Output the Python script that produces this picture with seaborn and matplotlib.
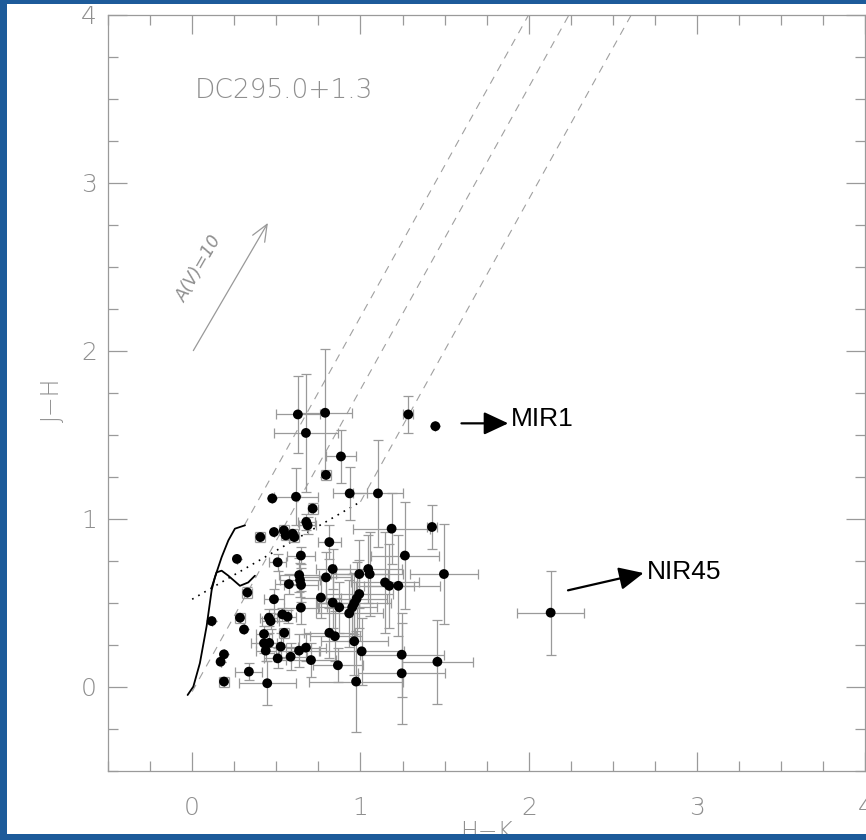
import numpy as np
import pandas as pd
import matplotlib
matplotlib.use("Agg")
import matplotlib.pyplot as plt
import seaborn as sns
from matplotlib.patches import Rectangle
from matplotlib.ticker import MultipleLocator

# ---------------- data ----------------
hk = [0.628, 0.790, 0.676, 1.284, 1.445, 0.884, 0.795, 0.936, 1.104, 0.476,
      0.617, 0.716, 0.678, 0.686, 0.405, 0.486, 0.545, 0.556, 0.597, 0.607,
      0.815, 0.266, 0.508, 0.646, 1.425, 1.185, 1.264, 0.835, 0.795, 0.636,
      0.641, 0.647, 0.575, 0.993, 1.046, 1.055, 1.146, 1.171, 1.225, 1.496,
      0.328, 0.486, 0.765, 0.835, 0.874, 0.646, 0.993, 0.977, 0.963, 0.951,
      0.933, 0.116, 0.536, 0.567, 0.456, 0.466, 0.284, 0.308, 0.547, 0.815,
      0.848, 0.427, 0.427, 0.458, 0.526, 0.437, 0.963, 0.635, 0.676, 1.007,
      0.189, 0.169, 0.508, 0.585, 0.706, 1.245, 1.457, 0.866, 1.245, 0.337,
      0.189, 0.446, 0.974, 2.130]
jh = [1.620, 1.630, 1.510, 1.620, 1.550, 1.370, 1.260, 1.150, 1.150, 1.120,
      1.130, 1.060, 0.980, 0.960, 0.890, 0.920, 0.930, 0.900, 0.910, 0.890,
      0.860, 0.760, 0.740, 0.780, 0.950, 0.940, 0.780, 0.700, 0.650, 0.664,
      0.634, 0.605, 0.610, 0.670, 0.700, 0.670, 0.620, 0.600, 0.600, 0.670,
      0.560, 0.520, 0.530, 0.500, 0.472, 0.470, 0.551, 0.523, 0.496, 0.472,
      0.436, 0.390, 0.430, 0.416, 0.410, 0.390, 0.410, 0.340, 0.320, 0.320,
      0.300, 0.313, 0.258, 0.260, 0.238, 0.214, 0.270, 0.214, 0.232, 0.210,
      0.192, 0.148, 0.168, 0.178, 0.158, 0.190, 0.148, 0.127, 0.079, 0.089,
      0.030, 0.020, 0.030, 0.440]
hk_err = [0.13, 0.16, 0.19, 0.03, 0.00, 0.09, 0.03, 0.10, 0.15, 0.00,
          0.13, 0.03, 0.05, 0.05, 0.03, 0.00, 0.03, 0.03, 0.03, 0.03,
          0.07, 0.00, 0.05, 0.085, 0.03, 0.23, 0.20, 0.10, 0.15, 0.12,
          0.12, 0.10, 0.08, 0.17, 0.20, 0.20, 0.20, 0.15, 0.25, 0.20,
          0.03, 0.06, 0.12, 0.10, 0.12, 0.10, 0.20, 0.18, 0.22, 0.15,
          0.20, 0.00, 0.05, 0.05, 0.05, 0.05, 0.03, 0.00, 0.03, 0.15,
          0.15, 0.05, 0.08, 0.08, 0.10, 0.06, 0.20, 0.12, 0.12, 0.25,
          0.00, 0.00, 0.08, 0.10, 0.15, 0.25, 0.21, 0.15, 0.26, 0.08,
          0.03, 0.17, 0.28, 0.20]
jh_err = [0.23, 0.38, 0.35, 0.11, 0.00, 0.16, 0.03, 0.16, 0.32, 0.00,
          0.17, 0.03, 0.05, 0.05, 0.03, 0.00, 0.03, 0.03, 0.03, 0.03,
          0.10, 0.00, 0.05, 0.05, 0.13, 0.21, 0.32, 0.12, 0.15, 0.10,
          0.10, 0.10, 0.06, 0.20, 0.20, 0.25, 0.30, 0.25, 0.30, 0.30,
          0.03, 0.06, 0.12, 0.15, 0.15, 0.10, 0.20, 0.22, 0.18, 0.20,
          0.20, 0.00, 0.04, 0.04, 0.05, 0.05, 0.03, 0.00, 0.03, 0.15,
          0.15, 0.05, 0.06, 0.06, 0.08, 0.06, 0.20, 0.10, 0.08, 0.20,
          0.00, 0.00, 0.06, 0.08, 0.10, 0.25, 0.25, 0.10, 0.30, 0.05,
          0.03, 0.13, 0.30, 0.25]

# intrinsic loci
giant_hk = [-0.027, 0.007, 0.046, 0.086, 0.116, 0.135, 0.175, 0.215, 0.254, 0.314]
giant_jh = [-0.050, 0.000, 0.140, 0.360, 0.575, 0.650, 0.770, 0.870, 0.940, 0.960]
dwarf_hk = [0.116, 0.145, 0.175, 0.215, 0.284, 0.333, 0.373]
dwarf_jh = [0.590, 0.680, 0.690, 0.660, 0.600, 0.620, 0.660]
ctts_hk = [0.0, 1.0]
ctts_jh = [0.52, 1.10]
# reddening band (start / end points)
band_hk0 = [0.31, 0.0, 1.0]
band_jh0 = [0.96, -0.03, 1.10]
band_hk1 = [2.00, 2.24, 2.61]
band_jh1 = [4.0, 4.0, 4.0]
# reddening vector A(V)=10
av_hk = [0.007, 0.45]
av_jh = [2.0, 2.76]

xticks = [0, 1, 2, 3, 4]
yticks = [0, 1, 2, 3, 4]

# ---------------- figure ----------------
sns.set_style("ticks")
plt.rcParams['font.family'] = ['DejaVu Sans']
GRAY = '#8f8f8f'

W, H = 866, 840
fig = plt.figure(figsize=(W / 100, H / 100), dpi=100)
BLUE = '#1d5b9a'
fig.patch.set_facecolor(BLUE)
fig.add_artist(Rectangle((7 / W, 1 - 835 / H), 1, (835 - 4) / H,
                         transform=fig.transFigure, facecolor='white',
                         edgecolor='none', zorder=-5))

ax = fig.add_axes([108 / W, 1 - 770.6 / H, (865.4 - 108) / W, (770.6 - 14.6) / H])
ax.set_facecolor('white')

# reddening band
for x0, y0, x1, y1 in zip(band_hk0, band_jh0, band_hk1, band_jh1):
    ax.plot([x0, x1], [y0, y1], color='#a0a0a0', lw=0.8, ls=(0, (7, 6)), zorder=1)

# CTTS locus
sns.lineplot(x=ctts_hk, y=ctts_jh, ax=ax, color='black', lw=1.2,
             linestyle=(0, (1, 3.2)), sort=False, zorder=2)
# giant and dwarf branches
sns.lineplot(x=giant_hk, y=giant_jh, ax=ax, color='black', lw=1.3, sort=False, zorder=2)
sns.lineplot(x=dwarf_hk, y=dwarf_jh, ax=ax, color='black', lw=1.3, sort=False, zorder=2)

# error bars
ax.errorbar(hk, jh, xerr=hk_err, yerr=jh_err, fmt='none', ecolor='#9a9a9a',
            elinewidth=0.9, capsize=3.6, capthick=0.9, zorder=3)
# points
df = pd.DataFrame({'hk': hk, 'jh': jh})
sns.scatterplot(data=df, x='hk', y='jh', ax=ax, color='black', s=50,
                edgecolor='none', zorder=4)

# reddening vector
ax.annotate('', xy=(av_hk[1], av_jh[1]), xytext=(av_hk[0], av_jh[0]),
            arrowprops=dict(arrowstyle='->,head_length=0.6,head_width=0.25',
                            color='#999999', lw=0.9, mutation_scale=20,
                            shrinkA=0, shrinkB=0))
ax.text(0.04, 2.49, 'A(V)=10', rotation=60, color=GRAY, fontsize=12.5,
        style='italic', fontweight='light', ha='center', va='center')

ax.text(0.017, 3.55, 'DC295.0+1.3', color=GRAY, fontsize=19,
        fontweight='light', ha='left', va='center')

# labelled arrows
aprops = dict(arrowstyle='-|>,head_length=0.75,head_width=0.35', color='black',
              lw=1.6, mutation_scale=20, shrinkA=0, shrinkB=0)
ax.annotate('', xy=(1.878, 1.567), xytext=(1.60, 1.567), arrowprops=aprops)
ax.text(1.895, 1.59, 'MIR1', fontsize=19, family='Liberation Sans',
        color='black', ha='left', va='center')
ax.annotate('', xy=(2.682, 0.676), xytext=(2.233, 0.573), arrowprops=aprops)
ax.text(2.70, 0.685, 'NIR45', fontsize=19, family='Liberation Sans',
        color='black', ha='left', va='center')

# axes styling
ax.set_xlim(-0.5, 4)
ax.set_ylim(-0.5, 4)
ax.set_xticks(xticks)
ax.set_yticks(yticks)
ax.xaxis.set_minor_locator(MultipleLocator(0.25))
ax.yaxis.set_minor_locator(MultipleLocator(0.25))
ax.tick_params(which='both', direction='in', top=True, right=True,
               color='#9a9a9a', width=0.9)
ax.tick_params(which='major', length=14)
ax.tick_params(which='minor', length=7)
ax.tick_params(axis='x', which='major', pad=18, labelsize=18, labelcolor=GRAY)
ax.tick_params(axis='y', which='major', pad=8, labelsize=18, labelcolor=GRAY)
for lab in ax.get_xticklabels() + ax.get_yticklabels():
    lab.set_fontweight('light')
for sp in ax.spines.values():
    sp.set_visible(True)
    sp.set_color('#9a9a9a')
    sp.set_linewidth(0.9)

ax.set_xlabel('H\u2212K', fontsize=17, color=GRAY, labelpad=0, fontweight='light')
ax.set_ylabel('J\u2212H', fontsize=17, color=GRAY, fontweight='light')
ax.yaxis.set_label_coords(-0.058, 0.49)

# blue band at the bottom that hides the lower part of the x label
fig.add_artist(Rectangle((0, 0), 1, 6 / H, transform=fig.transFigure,
                         facecolor=BLUE, edgecolor='none', zorder=20))

fig.savefig('out.png', dpi=100, facecolor=fig.get_facecolor())
